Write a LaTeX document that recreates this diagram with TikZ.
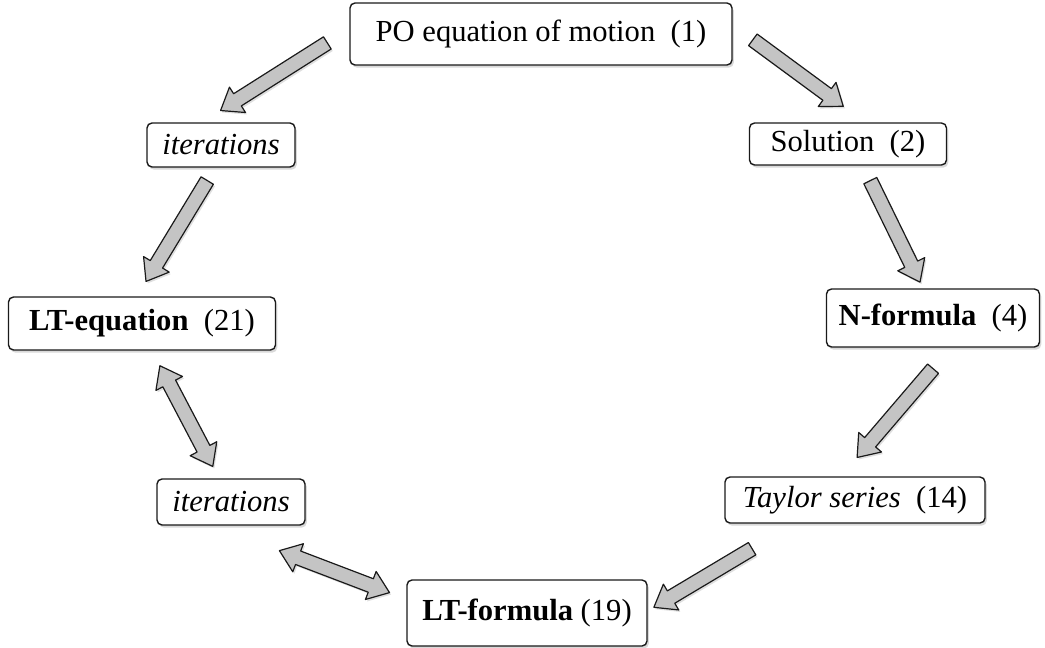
\documentclass[tikz,border=0pt]{standalone}
\usepackage{fontspec}
\setmainfont{Liberation Serif}
\usetikzlibrary{positioning,calc,shadows}
\definecolor{ink}{HTML}{1A1A1A}
\definecolor{shaft}{HTML}{C4C4C4}
\tikzset{box/.style={draw=ink,line width=0.7pt,rounded corners=2.5pt,fill=white,align=center,
           font=\fontsize{15.3}{18}\selectfont,inner sep=0pt,
           drop shadow={shadow xshift=0.9pt,shadow yshift=-1.3pt,opacity=0.3}},
         bar/.style={draw=ink,fill=shaft,line width=0.6pt,line join=round,
           drop shadow={shadow xshift=0.8pt,shadow yshift=-1pt,opacity=0.25}},
         fat/.style 2 args={to path={let \p1=(\tikztostart),\p2=(\tikztotarget),
           \n1={atan2(\y2-\y1,\x2-\x1)} in
           ($(\p1)+(\n1:#1)+(\n1+90:3.6pt)$) -- ($(\p2)+(\n1:-#2-10pt)+(\n1+90:3.6pt)$)
           -- ($(\p2)+(\n1:-#2-10pt)+(\n1+90:7.5pt)$) -- ($(\p2)+(\n1:-#2)$)
           -- ($(\p2)+(\n1:-#2-10pt)+(\n1-90:7.5pt)$) -- ($(\p2)+(\n1:-#2-10pt)+(\n1-90:3.6pt)$)
           -- ($(\p1)+(\n1:#1)+(\n1-90:3.6pt)$) -- cycle}},
         dfat/.style 2 args={to path={let \p1=(\tikztostart),\p2=(\tikztotarget),
           \n1={atan2(\y2-\y1,\x2-\x1)} in
           ($(\p1)+(\n1:#1)$) -- ($(\p1)+(\n1:#1+10pt)+(\n1+90:7.5pt)$)
           -- ($(\p1)+(\n1:#1+10pt)+(\n1+90:3.6pt)$) -- ($(\p2)+(\n1:-#2-10pt)+(\n1+90:3.6pt)$)
           -- ($(\p2)+(\n1:-#2-10pt)+(\n1+90:7.5pt)$) -- ($(\p2)+(\n1:-#2)$)
           -- ($(\p2)+(\n1:-#2-10pt)+(\n1-90:7.5pt)$) -- ($(\p2)+(\n1:-#2-10pt)+(\n1-90:3.6pt)$)
           -- ($(\p1)+(\n1:#1+10pt)+(\n1-90:3.6pt)$) -- ($(\p1)+(\n1:#1+10pt)+(\n1-90:7.5pt)$)
           -- cycle}}}

\begin{document}
\begin{tikzpicture}[x=0.5pt,y=-0.5pt]
 \useasboundingbox (0,0) rectangle (1045,648);
 % boxes round the loop
 \node[box,minimum width=191pt,minimum height=31pt] (po) at (541,34) {PO equation of motion~~(1)};
 \node[box,minimum width=98.5pt,minimum height=21pt] (sol) at (848,144) {Solution~~(2)};
 \node[box,minimum width=74pt,minimum height=22pt] (it1) at (221,145) {\textit{iterations}};
 \node[box,minimum width=133.5pt,minimum height=26.5pt] (lteq) at (142,323.5) {\textbf{LT-equation}~~(21)};
 \node[box,minimum width=106.5pt,minimum height=29pt] (nf) at (933,318) {\textbf{N-formula}~~(4)};
 \node[box,minimum width=74pt,minimum height=23pt] (it2) at (231,502) {\textit{iterations}};
 \node[box,minimum width=130pt,minimum height=23pt] (tay) at (855,500) {\textit{Taylor series}~~(14)};
 \node[box,minimum width=120pt,minimum height=33pt] (ltf) at (527,613) {\textbf{LT-formula} (19)};
 % block arrows
 \path[bar] ([yshift=2.5pt]po.west) to[fat={13pt}{11pt}] ([xshift=-9.5pt]it1.north);
 \path[bar] ([yshift=4.5pt]po.east) to[fat={12.5pt}{13.5pt}] ([xshift=8.5pt]sol.north);
 \path[bar] ([xshift=-3pt]it1.south) to[fat={7.5pt}{8.7pt}] ([xshift=-2.5pt]lteq.north);
 \path[bar] ([xshift=7.5pt]sol.south) to[fat={8.3pt}{3.4pt}] ([xshift=-5pt]nf.north);
 \path[bar] ([xshift=9pt]nf.south) to[fat={13.8pt}{12.4pt}] ([xshift=-7pt]tay.north);
 \path[bar] ([xshift=-30.5pt]tay.south) to[fat={24.4pt}{3.6pt}] ([yshift=1pt]ltf.east);
 \path[bar] ([xshift=5pt]lteq.south) to[dfat={8.5pt}{6.7pt}] ([xshift=-6pt]it2.north);
 \path[bar] ([xshift=-8.5pt]it2.south) to[dfat={35pt}{9pt}] ([yshift=7pt]ltf.west);
\end{tikzpicture}
\end{document}
